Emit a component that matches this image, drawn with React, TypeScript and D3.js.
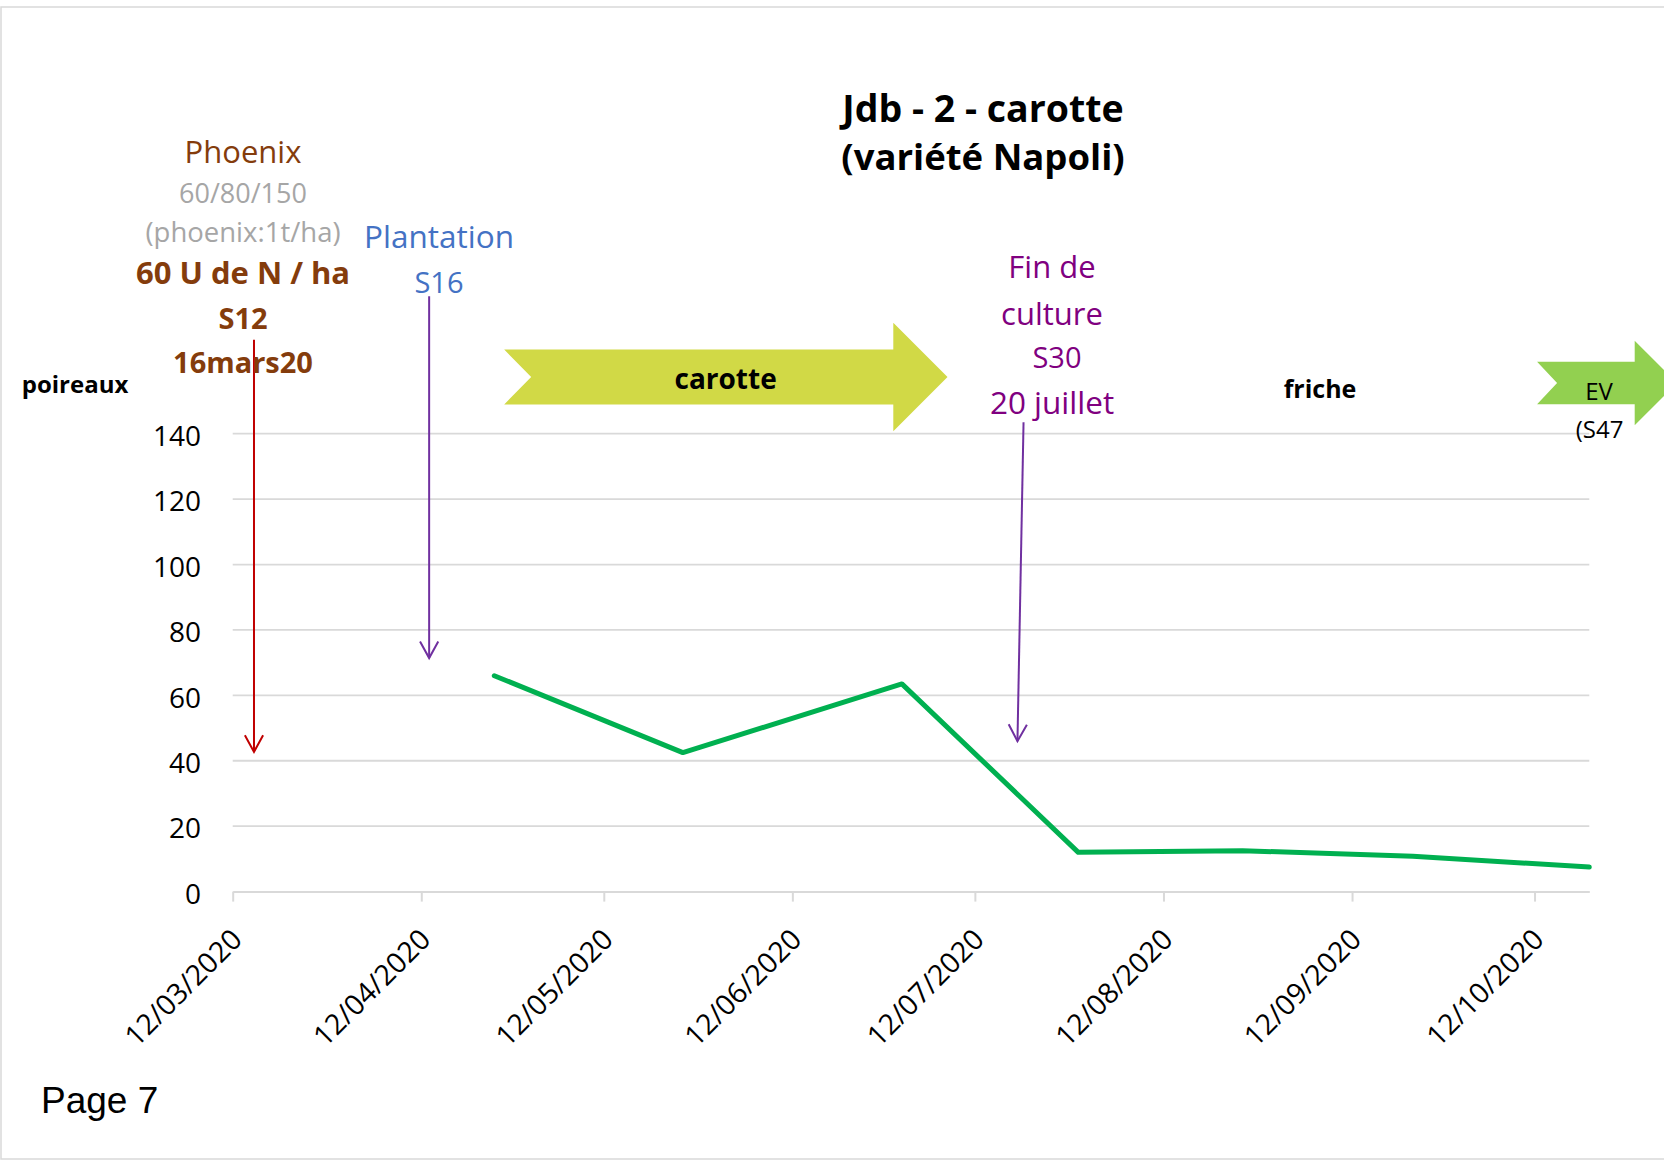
import React, { useEffect, useRef } from "react";
import * as d3 from "d3";

// mesures poireaux (U de N / ha)
const sampleDates = ["2020-04-24", "2020-05-25", "2020-06-30", "2020-07-29", "2020-08-25", "2020-09-22", "2020-10-21"];
const poireauxValues = [66, 42.5, 63.5, 12, 12.5, 10.8, 7.5];

const axisStart = "2020-03-12";
const axisEnd = "2020-10-21";
const xTickDates = ["2020-03-12", "2020-04-12", "2020-05-12", "2020-06-12", "2020-07-12", "2020-08-12", "2020-09-12", "2020-10-12"];
const yTickValues = [0, 20, 40, 60, 80, 100, 120, 140];

const titleLines = ["Jdb - 2 - carotte", "(variété Napoli)"];
const phoenixLines = ["Phoenix", "60/80/150", "(phoenix:1t/ha)", "60 U de N / ha", "S12", "16mars20"];
const plantationLines = ["Plantation", "S16"];
const finLines = ["Fin de", "culture", "S30", "20 juillet"];
const seriesLabel = "poireaux";
const fricheLabel = "friche";
const evLines = ["EV", "(S47"];
const pageLabel = "Page 7";

// event arrows : date, value at start, value at arrow tip
const eventKeys = ["apport", "plantation", "fin"];
const eventStartDates = ["2020-03-15T12:00:00", "2020-04-13T07:00:00", "2020-07-20T00:00:00"];
const eventEndDates = ["2020-03-15T12:00:00", "2020-04-13T07:00:00", "2020-07-19T00:00:00"];
const eventStartValues = [168.7, 182, 143.5];
const eventEndValues = [42.7, 71.4, 46];

// crop phases (banner arrows)
const phaseNames = ["carotte", "EV"];
const phaseStarts = ["2020-04-25T15:00:00", "2020-10-12T10:00:00"];
const phaseEnds = ["2020-07-07T12:00:00", "2020-11-04T10:00:00"];

const toDate = (s) => new Date(s.length === 10 ? s + "T00:00:00Z" : s + "Z");

const FONT = "'Open Sans', sans-serif";
const GRID = "#D9D9D9";

export default function App() {
  const svgRef = useRef(null);

  useEffect(() => {
    const width = 1664;
    const height = 1161;
    const left = 232.7;
    const right = 1589.3;
    const top = 433.7;
    const bottom = 891.6;

    const svg = d3.select(svgRef.current);
    svg.selectAll("*").remove();
    svg.attr("width", width).attr("height", height);

    svg.append("rect")
      .attr("x", 0).attr("y", 0).attr("width", width).attr("height", height)
      .attr("fill", "white");

    // page frame
    svg.append("rect")
      .attr("x", 1).attr("y", 7).attr("width", width + 20).attr("height", 1152)
      .attr("fill", "none").attr("stroke", GRID).attr("stroke-width", 1.5);

    const xScale = d3.scaleUtc()
      .domain([toDate(axisStart), toDate(axisEnd)])
      .range([left, right]);

    const yScale = d3.scaleLinear()
      .domain([0, 140])
      .range([bottom, top]);

    // gridlines
    svg.append("g")
      .selectAll("line")
      .data(yTickValues.filter(v => v > 0))
      .enter()
      .append("line")
      .attr("x1", left).attr("x2", right)
      .attr("y1", d => yScale(d)).attr("y2", d => yScale(d))
      .attr("stroke", GRID).attr("stroke-width", 1.8);

    // x axis
    const xAxis = d3.axisBottom(xScale)
      .tickValues(xTickDates.map(toDate))
      .tickFormat(d3.utcFormat("%d/%m/%Y"))
      .tickSize(10)
      .tickSizeOuter(0);

    const xg = svg.append("g")
      .attr("transform", `translate(0,${bottom})`)
      .call(xAxis);
    xg.select(".domain").attr("stroke", GRID).attr("stroke-width", 2);
    xg.selectAll(".tick line").attr("stroke", GRID).attr("stroke-width", 2);
    xg.selectAll(".tick text")
      .attr("x", 0).attr("y", 0).attr("dy", null)
      .attr("transform", "translate(10.5,49.5) rotate(-45)")
      .attr("text-anchor", "end")
      .attr("fill", "#000")
      .style("font-family", FONT)
      .style("font-size", "28.5px");

    // y axis labels
    const yAxis = d3.axisLeft(yScale)
      .tickValues(yTickValues)
      .tickSize(0)
      .tickPadding(31.7);
    const yg = svg.append("g")
      .attr("transform", `translate(${left},0)`)
      .call(yAxis);
    yg.select(".domain").remove();
    yg.selectAll(".tick text")
      .attr("dy", "0.42em")
      .attr("fill", "#000")
      .style("font-family", FONT)
      .style("font-size", "28px");

    // data line
    const points = sampleDates.map((d, i) => ({ date: toDate(d), value: poireauxValues[i] }));
    const line = d3.line()
      .x(d => xScale(d.date))
      .y(d => yScale(d.value));
    svg.append("path")
      .datum(points)
      .attr("d", line)
      .attr("fill", "none")
      .attr("stroke", "#00B050")
      .attr("stroke-width", 5)
      .attr("stroke-linejoin", "round")
      .attr("stroke-linecap", "round");

    // event arrows
    const arrowColours = { apport: "#C00000", plantation: "#7030A0", fin: "#7030A0" };
    eventKeys.forEach((key, i) => {
      const x1 = xScale(toDate(eventStartDates[i]));
      const y1 = yScale(eventStartValues[i]);
      const x2 = xScale(toDate(eventEndDates[i]));
      const y2 = yScale(eventEndValues[i]);
      const ang = Math.atan2(y2 - y1, x2 - x1);
      const len = 19;
      const spread = 0.5;
      const g = svg.append("g")
        .attr("stroke", arrowColours[key])
        .attr("stroke-width", 2)
        .attr("fill", "none");
      g.append("line").attr("x1", x1).attr("y1", y1).attr("x2", x2).attr("y2", y2);
      g.append("path")
        .attr("d", `M${x2 - len * Math.cos(ang - spread)},${y2 - len * Math.sin(ang - spread)}L${x2},${y2}L${x2 - len * Math.cos(ang + spread)},${y2 - len * Math.sin(ang + spread)}`);
    });

    // phase banners
    const phaseStyles = {
      carotte: { fill: "#D1D946", body: 27.5, head: 54.2, notch: 27, yMid: 377 },
      EV: { fill: "#92D050", body: 21.3, head: 42.3, notch: 20, yMid: 383 },
    };
    phaseNames.forEach((name, i) => {
      const st = phaseStyles[name];
      const x0 = xScale(toDate(phaseStarts[i]));
      const x1 = xScale(toDate(phaseEnds[i]));
      const hb = x1 - st.head;
      const m = st.yMid;
      const pts = [
        [x0, m - st.body], [hb, m - st.body], [hb, m - st.head], [x1, m],
        [hb, m + st.head], [hb, m + st.body], [x0, m + st.body], [x0 + st.notch, m],
      ];
      svg.append("path")
        .attr("d", d3.line()(pts) + "Z")
        .attr("fill", st.fill);
    });

    const addText = (x, y, str, size, opts = {}) => {
      svg.append("text")
        .attr("x", x).attr("y", y)
        .attr("text-anchor", opts.anchor || "middle")
        .attr("fill", opts.fill || "#000")
        .style("font-family", opts.family || FONT)
        .style("font-size", `${size}px`)
        .style("font-weight", opts.bold ? "bold" : "normal")
        .text(str);
    };

    // title
    addText(983, 121.7, titleLines[0], 37.5, { bold: true });
    addText(983, 170, titleLines[1], 36.5, { bold: true });

    // phoenix block
    const brown = "#843C0C";
    const grey = "#A6A6A6";
    addText(243, 163, phoenixLines[0], 31, { fill: brown });
    addText(243, 203, phoenixLines[1], 27, { fill: grey });
    addText(243, 242, phoenixLines[2], 27.5, { fill: grey });
    addText(243, 284, phoenixLines[3], 31, { fill: brown, bold: true });
    addText(243, 329, phoenixLines[4], 29, { fill: brown, bold: true });
    addText(243, 373, phoenixLines[5], 29, { fill: brown, bold: true });

    // plantation
    addText(439, 248, plantationLines[0], 31.5, { fill: "#4472C4" });
    addText(439, 293, plantationLines[1], 29, { fill: "#4472C4" });

    // fin de culture
    const purple = "#800080";
    addText(1052, 278, finLines[0], 31, { fill: purple });
    addText(1052, 325, finLines[1], 31, { fill: purple });
    addText(1057, 368, finLines[2], 29, { fill: purple });
    addText(1052, 414, finLines[3], 31.5, { fill: purple });

    addText(75, 392.7, seriesLabel, 24, { bold: true });
    addText(725.6, 389, phaseNames[0], 28, { bold: true });
    addText(1320, 397.7, fricheLabel, 25, { bold: true });
    addText(1599, 400, evLines[0], 24);
    addText(1575.7, 438, evLines[1], 24, { anchor: "start" });

    addText(41, 1113, pageLabel, 37, { anchor: "start", family: "'Liberation Sans', Arial, sans-serif" });
  }, []);

  return (
    <div style={{ position: "absolute", left: 0, top: 0 }}>
      <svg ref={svgRef} style={{ display: "block" }}></svg>
    </div>
  );
}
